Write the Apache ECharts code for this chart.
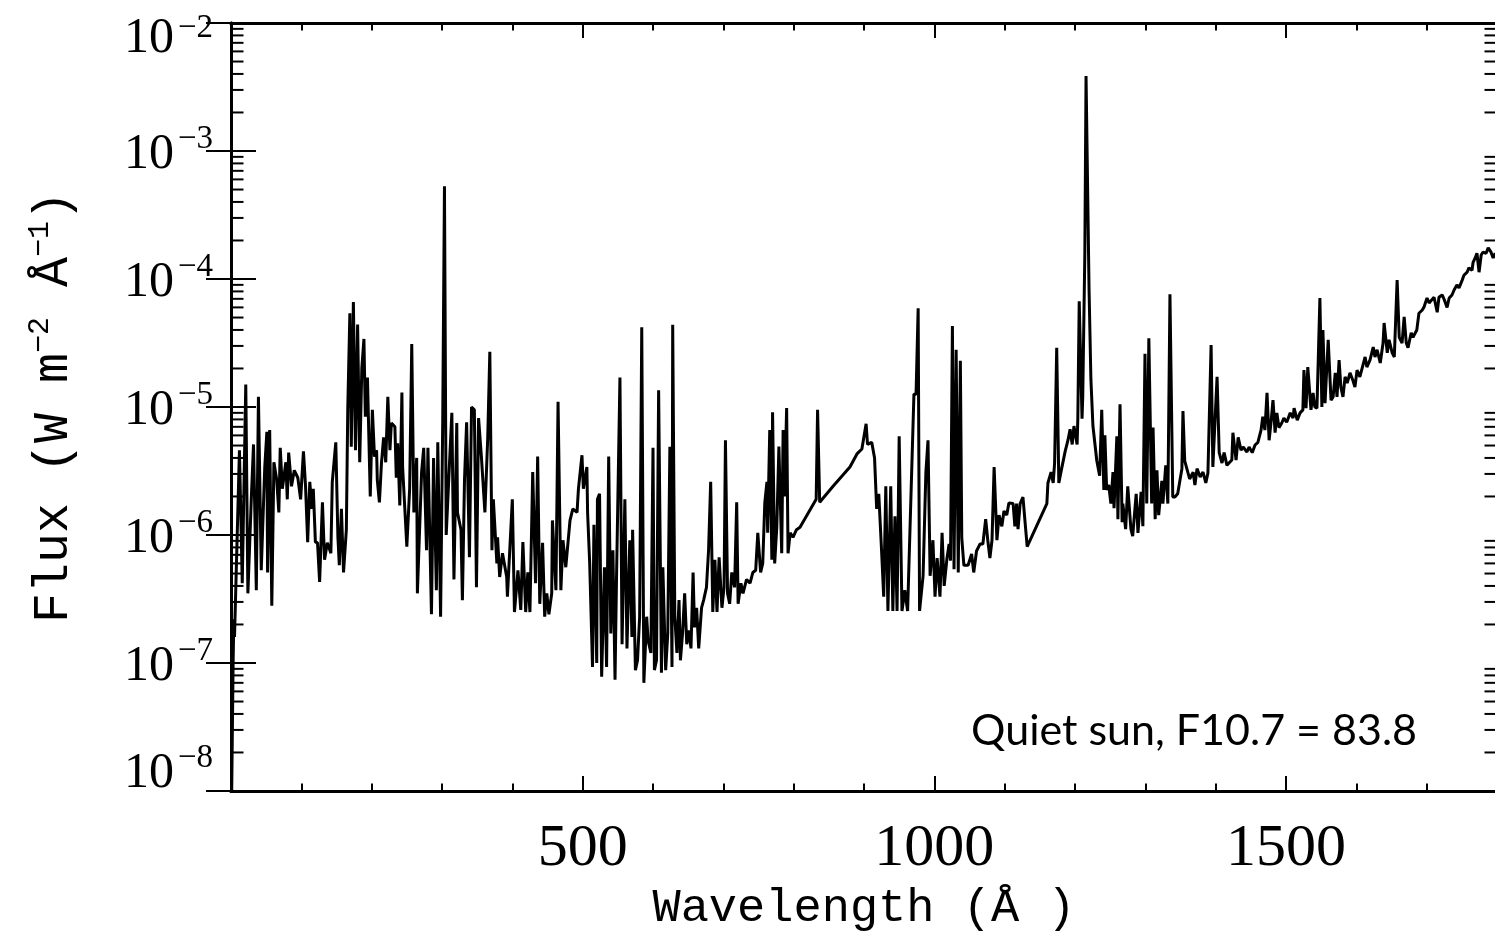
<!DOCTYPE html>
<html>
<head>
<meta charset="utf-8">
<title>Quiet sun spectrum</title>
<script src="https://cdn.jsdelivr.net/npm/echarts@6/dist/echarts.min.js"></script>
<style>
  html, body { margin: 0; padding: 0; background: #fff; }
  #chart { width: 1495px; height: 939px; }
</style>
</head>
<body>
<div id="chart"></div>
<script>
// wavelength (Angstrom) and flux (W m^-2 A^-1)
const wavelength = [
  1, 3, 4, 5, 12, 16, 21, 24, 29, 32, 36, 39, 43, 48, 51, 52, 55, 58, 61, 65,
  68, 70, 73, 78, 80, 82, 86, 90, 95, 99, 103, 106, 109, 112, 115, 117, 120, 123, 126, 130,
  133, 137, 142, 144, 149, 152, 154, 157, 160, 164, 166, 169, 171, 174, 177, 180, 183, 186, 189, 191,
  194, 198, 201, 204, 207, 208, 211, 214, 217, 220, 223, 226, 228, 233, 235, 237, 240, 243, 244, 250,
  254, 257, 260, 264, 265, 271, 274, 278, 280, 285, 288, 292, 294, 298, 301, 303.5, 306, 309, 314, 317,
  321, 322, 327, 329, 332, 335, 339, 342, 346, 349, 352, 356, 361, 365, 368, 371, 373, 378, 379, 382,
  386, 392, 393, 400, 403, 408, 412, 415, 419, 422, 425, 429, 433, 436, 439, 443, 446, 449, 452, 456,
  457, 462, 465, 469, 472, 476, 482, 486, 492, 494, 499, 501, 506, 507, 510, 514, 516, 520, 521, 524,
  527, 531, 534, 537, 540, 543, 546, 548, 553, 556, 560, 563, 567, 570, 571, 575, 578, 581, 584, 587,
  591, 593, 597, 600, 602, 605, 608, 612, 614, 618, 621, 624, 627, 628, 631, 634, 637, 639, 642, 645,
  648, 651, 654, 657, 659, 662, 665, 669, 672, 676, 679, 682, 685, 688, 691, 694, 698, 701, 703, 706,
  709, 712, 716, 719, 721, 725, 728, 733, 738, 742, 746, 749, 753, 756, 759, 762, 763, 766, 769, 770,
  773, 776, 779, 783, 785, 787, 790, 792, 795, 799, 804, 809, 832, 834, 837, 856, 880, 890, 897, 903,
  905, 911, 915, 918, 921, 925, 928, 931, 934, 938, 941, 944, 947, 950, 954, 958, 962, 971, 974, 977,
  979, 984, 988, 991, 994, 998, 1001, 1004, 1008, 1011, 1014, 1018, 1021, 1023, 1025.7, 1028, 1031, 1034, 1037, 1039,
  1042, 1048, 1053, 1056, 1060, 1065, 1069, 1073, 1076, 1079, 1082, 1085, 1089, 1092, 1096, 1099, 1103, 1106, 1112, 1114.5,
  1117, 1119, 1122, 1126, 1129, 1132, 1160, 1161.5, 1166, 1169, 1171, 1174, 1177, 1181, 1186, 1190, 1193, 1196, 1198.5, 1203,
  1204, 1206, 1210, 1211, 1214, 1215.7, 1220, 1222.6, 1225.5, 1231, 1235, 1238, 1241, 1242.5, 1245, 1248, 1251, 1254, 1255.5, 1259.5,
  1261, 1264, 1267, 1268, 1272, 1275, 1279.5, 1282, 1287, 1289.5, 1294, 1296.5, 1299.5, 1302, 1305, 1309, 1311, 1314, 1316.5, 1319,
  1323.5, 1325, 1329, 1332, 1335, 1339, 1342, 1346, 1352, 1353.5, 1356, 1359, 1363, 1368, 1370.5, 1373.5, 1378, 1382, 1386, 1389,
  1393.5, 1396, 1402, 1405, 1409, 1412, 1416, 1419, 1423, 1424.5, 1429, 1432, 1436, 1439, 1444.5, 1447.5, 1452, 1456, 1460, 1464.5,
  1467, 1470, 1473, 1476, 1479, 1481.5, 1484.5, 1487, 1490, 1494, 1497, 1501, 1506, 1510, 1511.5, 1516, 1520, 1524, 1525.5, 1528.5,
  1531, 1535.5, 1538.5, 1541, 1544, 1548.2, 1551, 1552.5, 1555.5, 1560, 1564, 1567, 1570, 1572.5, 1575.5, 1578, 1581, 1584, 1587, 1591,
  1595, 1598, 1601, 1605, 1609.5, 1612.5, 1615, 1619.5, 1624, 1626.5, 1629.5, 1634, 1638, 1639.5, 1644, 1646.5, 1651, 1654, 1658, 1661,
  1665, 1668, 1671, 1673.5, 1678, 1680.5, 1686, 1689, 1693.5, 1696, 1700.5, 1703.5, 1707.5, 1710.5, 1715, 1717.5, 1722, 1725, 1729, 1732,
  1736, 1739, 1743, 1746, 1750.5, 1753, 1757.5, 1760, 1764.5, 1766, 1769, 1771.5, 1774.5, 1777.5, 1780, 1784.5, 1787.5, 1791.5, 1794.5, 1797.5
];

const flux = [
  1.0e-8, 1.0e-7, 2.2e-7, 1.6e-7, 4.6e-6, 4.2e-7, 1.5e-5, 3.5e-7, 2.0e-6, 5.1e-6, 3.7e-7, 1.2e-5, 5.3e-7, 3.4e-6, 6.4e-6, 5.1e-7, 6.6e-6, 2.8e-7, 3.7e-6, 2.7e-6,
  1.5e-6, 4.8e-6, 2.3e-6, 3.7e-6, 1.9e-6, 4.4e-6, 2.4e-6, 3.2e-6, 2.8e-6, 1.9e-6, 4.5e-6, 2.4e-6, 8.8e-7, 2.6e-6, 1.6e-6, 2.3e-6, 8.8e-7, 8.7e-7, 4.3e-7, 1.8e-6,
  6.4e-7, 8.7e-7, 7.2e-7, 2.6e-6, 5.3e-6, 9.6e-7, 5.8e-7, 1.6e-6, 5.1e-7, 1.1e-6, 9.5e-6, 5.4e-5, 4.9e-6, 6.6e-5, 4.6e-6, 4.4e-5, 3.7e-6, 2.0e-5, 3.4e-5, 8.4e-6,
  1.7e-5, 2.0e-6, 9.5e-6, 4.1e-6, 4.6e-6, 2.7e-6, 1.8e-6, 3.7e-6, 5.8e-6, 3.7e-6, 1.2e-5, 4.6e-6, 7.5e-6, 7.0e-6, 2.8e-6, 5.2e-6, 1.7e-6, 1.3e-5, 3.4e-6, 8.1e-7,
  2.3e-6, 3.1e-5, 1.5e-6, 4.0e-6, 3.5e-7, 3.1e-6, 4.8e-6, 7.6e-7, 4.8e-6, 2.4e-7, 4.0e-6, 3.7e-7, 5.3e-6, 2.3e-7, 7.5e-6, 5.3e-4, 1.0e-6, 2.3e-6, 9.0e-6, 4.5e-7,
  7.5e-6, 1.5e-6, 1.1e-6, 3.1e-7, 2.7e-6, 7.6e-6, 6.7e-7, 1.0e-5, 9.5e-6, 3.9e-7, 8.2e-6, 4.1e-6, 1.5e-6, 5.7e-6, 2.7e-5, 7.6e-7, 1.9e-6, 6.0e-7, 9.6e-7, 4.7e-7,
  7.2e-7, 4.7e-7, 3.3e-7, 1.9e-6, 2.5e-7, 5.3e-7, 2.6e-7, 8.8e-7, 2.5e-7, 5.1e-7, 2.5e-7, 3.1e-6, 4.2e-7, 4.1e-6, 2.9e-7, 8.7e-7, 2.3e-7, 3.5e-7, 2.4e-7, 3.5e-7,
  1.3e-6, 3.7e-7, 1.1e-5, 3.7e-7, 9.1e-7, 5.6e-7, 1.3e-6, 1.6e-6, 1.5e-6, 2.3e-6, 4.2e-6, 2.3e-6, 3.4e-6, 1.5e-6, 6.0e-7, 9.3e-8, 1.2e-6, 1.0e-7, 1.9e-6, 2.1e-6,
  7.8e-8, 5.6e-7, 9.3e-8, 4.1e-6, 1.7e-7, 7.6e-7, 7.4e-8, 4.2e-7, 1.7e-5, 1.4e-7, 1.9e-6, 1.3e-7, 9.1e-7, 1.6e-7, 1.1e-6, 8.8e-8, 1.05e-7, 2.3e-7, 4.2e-5, 7.0e-8,
  2.3e-7, 1.5e-7, 1.2e-7, 4.8e-6, 8.8e-8, 1.05e-7, 1.35e-5, 8.4e-8, 5.6e-7, 8.8e-8, 1.7e-7, 4.9e-6, 9.3e-8, 4.4e-5, 2.3e-7, 1.2e-7, 3.1e-7, 1.05e-7, 1.7e-7, 3.5e-7,
  1.4e-7, 1.8e-7, 1.3e-7, 5.1e-7, 1.9e-7, 2.7e-7, 1.3e-7, 2.7e-7, 3.1e-7, 3.9e-7, 7.6e-7, 2.6e-6, 2.5e-7, 6.4e-7, 2.5e-7, 6.7e-7, 2.7e-7, 3.9e-7, 5.5e-6, 3.5e-7,
  2.9e-7, 5.1e-7, 3.9e-7, 1.8e-6, 2.9e-7, 4.2e-7, 3.5e-7, 4.5e-7, 4.2e-7, 5.1e-7, 5.3e-7, 1.04e-6, 5.1e-7, 6.0e-7, 1.8e-6, 2.6e-6, 1.04e-6, 6.6e-6, 6.4e-7, 9.1e-6,
  6.0e-7, 1.15e-6, 4.9e-6, 7.2e-7, 6.6e-6, 2.0e-6, 9.8e-6, 7.2e-7, 1.04e-6, 9.6e-7, 1.1e-6, 1.15e-6, 1.9e-6, 9.5e-6, 1.8e-6, 2.4e-6, 3.4e-6, 4.3e-6, 4.7e-6, 7.4e-6,
  5.1e-6, 5.3e-6, 4.0e-6, 1.6e-6, 2.1e-6, 7.5e-7, 3.3e-7, 2.4e-6, 2.55e-7, 2.4e-6, 2.55e-7, 1.4e-6, 2.55e-7, 5.9e-6, 2.55e-7, 3.7e-7, 2.55e-7, 1.26e-5, 1.26e-5, 5.9e-5,
  2.55e-7, 4.8e-7, 3.1e-6, 5.5e-6, 4.8e-7, 9.1e-7, 3.3e-7, 6.6e-7, 3.3e-7, 1.04e-6, 4.0e-7, 6.6e-7, 8.5e-7, 6.3e-7, 4.3e-5, 5.4e-7, 2.8e-5, 5.1e-7, 2.3e-5, 9.5e-7,
  5.8e-7, 5.8e-7, 7.1e-7, 5.1e-7, 7.5e-7, 8.5e-7, 8.5e-7, 1.33e-6, 9.1e-7, 6.6e-7, 9.1e-7, 3.4e-6, 9.1e-7, 1.43e-6, 1.17e-6, 1.54e-6, 1.43e-6, 1.78e-6, 1.76e-6, 1.17e-6,
  1.76e-6, 1.11e-6, 1.76e-6, 1.98e-6, 1.26e-6, 8.1e-7, 1.76e-6, 2.55e-6, 3.1e-6, 2.55e-6, 3.65e-6, 2.9e-5, 2.55e-6, 3.3e-6, 4.5e-6, 5.5e-6, 6.7e-6, 5.1e-6, 7.1e-6, 5.1e-6,
  8.1e-6, 6.7e-5, 8.1e-6, 1.2e-5, 1.6e-4, 3.85e-3, 8.2e-5, 1.65e-5, 7.1e-6, 3.8e-6, 2.9e-6, 9.5e-6, 2.25e-6, 6.0e-6, 2.25e-6, 2.46e-6, 1.76e-6, 3.1e-6, 1.62e-6, 5.9e-6,
  1.33e-6, 1.05e-5, 1.26e-6, 1.76e-6, 1.11e-6, 2.4e-6, 1.11e-6, 9.8e-7, 2.1e-6, 1.04e-6, 2.17e-6, 1.17e-6, 2.6e-5, 1.76e-6, 3.45e-5, 1.76e-6, 6.9e-6, 1.33e-6, 3.2e-6, 1.43e-6,
  2.65e-6, 1.76e-6, 3.5e-6, 1.76e-6, 7.6e-5, 1.98e-6, 1.98e-6, 2.1e-6, 3.3e-6, 9.3e-6, 3.8e-6, 3.3e-6, 2.74e-6, 3.1e-6, 2.46e-6, 3.3e-6, 2.84e-6, 3.1e-6, 2.55e-6, 3.05e-6,
  3.05e-5, 3.4e-6, 1.72e-5, 4.4e-6, 3.65e-6, 4.4e-6, 3.5e-6, 3.65e-6, 3.85e-6, 6.3e-6, 3.85e-6, 5.8e-6, 4.6e-6, 4.87e-6, 4.45e-6, 4.87e-6, 4.4e-6, 5.05e-6, 5.3e-6, 6.6e-6,
  8.4e-6, 6.6e-6, 1.29e-5, 5.5e-6, 7.9e-6, 1.13e-5, 6.3e-6, 9.0e-6, 6.9e-6, 7.5e-6, 8.2e-6, 7.6e-6, 9.0e-6, 8.2e-6, 9.8e-6, 7.9e-6, 9.0e-6, 9.5e-6, 1.94e-5, 9.8e-6,
  2.05e-5, 9.5e-6, 1.29e-5, 1.0e-5, 9.8e-6, 7.1e-5, 1.0e-5, 4.0e-5, 1.07e-5, 3.35e-5, 1.13e-5, 1.2e-5, 1.85e-5, 1.2e-5, 2.33e-5, 1.43e-5, 1.2e-5, 1.72e-5, 1.54e-5, 1.85e-5,
  1.62e-5, 1.43e-5, 1.94e-5, 1.72e-5, 2.13e-5, 2.46e-5, 2.05e-5, 2.33e-5, 2.94e-5, 2.46e-5, 2.8e-5, 2.21e-5, 3.16e-5, 4.53e-5, 2.65e-5, 3.35e-5, 2.65e-5, 2.46e-5, 9.8e-5, 3.5e-5,
  3.16e-5, 5.05e-5, 3.16e-5, 2.9e-5, 3.8e-5, 3.5e-5, 4.0e-5, 5.4e-5, 5.7e-5, 6.0e-5, 7.1e-5, 6.5e-5, 6.9e-5, 7.2e-5, 5.5e-5, 7.2e-5, 7.5e-5, 6.9e-5, 6.0e-5, 7.1e-5,
  7.5e-5, 8.2e-5, 9.0e-5, 8.5e-5, 9.8e-5, 1.07e-4, 1.13e-4, 1.22e-4, 1.17e-4, 1.35e-4, 1.46e-4, 1.59e-4, 1.13e-4, 1.54e-4, 1.62e-4, 1.59e-4, 1.75e-4, 1.62e-4, 1.46e-4, 1.59e-4
];

// axis ticks
const xMajorLabels = [500, 1000, 1500];
const yDecades = [-8, -7, -6, -5, -4, -3];
const yMinorMantissas = [2, 3, 4, 5, 6, 7, 8, 9];
const noteText = 'Quiet sun, F10.7 = 83.8';

const spectrum = wavelength.map((w, i) => [w, flux[i]]);
const minorTicks = [];
yDecades.forEach(d => yMinorMantissas.forEach(m => minorTicks.push([0, m * Math.pow(10, d)])));

const serif = 'Liberation Serif';
const mono = 'Liberation Mono';
const frame = { show: true, lineStyle: { color: '#000', width: 3 } };

function xAxisDef(position, step, tickLen, withLabels) {
  return {
    type: 'value', position: position, min: 0, max: 1800, interval: step,
    splitLine: { show: false },
    axisLine: frame,
    axisTick: { show: true, inside: true, length: tickLen, lineStyle: { color: '#000', width: 2 } },
    axisLabel: withLabels ? {
      show: true, margin: 28, color: '#000', fontFamily: serif, fontSize: 60,
      formatter: v => (xMajorLabels.indexOf(v) >= 0 ? String(v) : '')
    } : { show: false }
  };
}

const xAxes = [
  xAxisDef('bottom', 500, 15, true),
  xAxisDef('bottom', 100, 7.5, false),
  xAxisDef('top', 500, 15, false),
  xAxisDef('top', 100, 7.5, false)
];
xAxes[0].name = 'Wavelength (Å )';
xAxes[0].nameLocation = 'middle';
xAxes[0].nameGap = 94;
xAxes[0].nameTextStyle = { fontFamily: mono, fontSize: 47, color: '#000' };

// tick label "10" with a raised exponent; the end labels sit inside the frame
const base = { fontFamily: serif, fontSize: 50, lineHeight: 56, color: '#000', verticalAlign: 'top' };
const expo = { fontFamily: serif, fontSize: 33, lineHeight: 30, color: '#000', verticalAlign: 'top' };
const yLabelRich = {
  b:  Object.assign({}, base, { padding: [7, 0, 0, 0] }),
  s:  Object.assign({}, expo, { padding: [0, 0, 0, 4] }),
  bt: Object.assign({}, base, { padding: [19, 0, 0, 0] }),
  st: Object.assign({}, expo, { padding: [17, 0, 0, 4] }),
  bb: Object.assign({}, base, { padding: [11, 0, 0, 0] }),
  sb: Object.assign({}, expo, { padding: [4, 0, 0, 4] }),
  h:  { width: 0, fontSize: 1, lineHeight: 106, verticalAlign: 'top' }
};

function yLabel(v) {
  const e = Math.round(Math.log10(v));
  const sup = '\u2212' + Math.abs(e);
  if (e === -2) return '{bt|10}{st|' + sup + '}';
  if (e === -8) return '{h| }{bb|10}{sb|' + sup + '}';
  return '{b|10}{s|' + sup + '}';
}

function yAxisDef(position, withLabels) {
  return {
    type: 'log', logBase: 10, position: position, min: 1e-8, max: 1e-2,
    splitLine: { show: false },
    minorTick: { show: false },
    axisLine: frame,
    axisTick: { show: true, inside: true, length: 25, lineStyle: { color: '#000', width: 2 } },
    axisLabel: withLabels ? { show: true, margin: 18, formatter: yLabel, rich: yLabelRich } : { show: false }
  };
}

const yAxes = [yAxisDef('left', true), yAxisDef('right', false)];
yAxes[0].name = '{m|Flux (W m}{s|\u22122}{m| Å}{s|\u22121}{m|)}';
yAxes[0].nameLocation = 'middle';
yAxes[0].nameGap = 152;
yAxes[0].nameTextStyle = {
  rich: {
    m: { fontFamily: mono, fontSize: 50, lineHeight: 54, color: '#000', verticalAlign: 'bottom' },
    s: { fontFamily: mono, fontSize: 30, lineHeight: 30, color: '#000', verticalAlign: 'top' }
  }
};

const chart = echarts.init(document.getElementById('chart'), null, { renderer: 'canvas' });
chart.setOption({
  animation: false,
  backgroundColor: '#fff',
  grid: { left: 231, right: -2, top: 23, bottom: 148, outerBoundsMode: 'none' },
  xAxis: xAxes,
  yAxis: yAxes,
  series: [
    {
      type: 'line',
      xAxisIndex: 0, yAxisIndex: 0,
      data: spectrum,
      showSymbol: false,
      symbol: 'none',
      sampling: null,
      lineStyle: { color: '#000', width: 3, join: 'bevel' },
      silent: true
    },
    {
      // minor log ticks at 2..9 of each decade, on both sides
      type: 'custom',
      xAxisIndex: 0, yAxisIndex: 0,
      data: minorTicks,
      silent: true,
      clip: false,
      renderItem: function (params, api) {
        const cs = params.coordSys;
        const y = api.coord([0, api.value(1)])[1];
        const st = { stroke: '#000', lineWidth: 2 };
        return {
          type: 'group',
          children: [
            { type: 'line', shape: { x1: cs.x, y1: y, x2: cs.x + 12.5, y2: y }, style: st },
            { type: 'line', shape: { x1: cs.x + cs.width - 12.5, y1: y, x2: cs.x + cs.width, y2: y }, style: st }
          ]
        };
      }
    }
  ],
  graphic: [
    {
      type: 'text',
      x: 1417, y: 731,
      style: { text: noteText, font: '43px Lato', fill: '#000', align: 'right', verticalAlign: 'middle' }
    }
  ]
});
</script>
</body>
</html>
